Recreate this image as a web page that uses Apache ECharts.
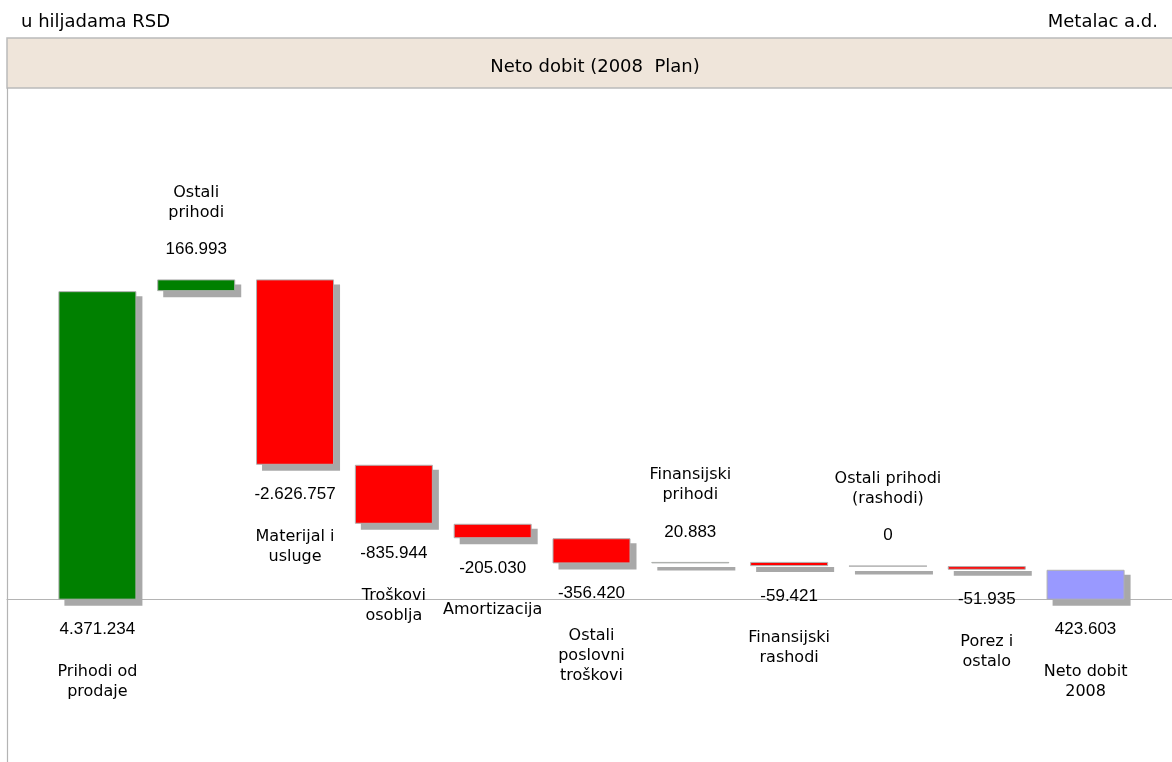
<!DOCTYPE html>
<html><head><meta charset="utf-8">
<script src="https://cdn.jsdelivr.net/npm/echarts@6/dist/echarts.min.js"></script>
<style>html,body{margin:0;padding:0;background:#fff}#c{width:1172px;height:762px}</style>
</head><body><div id="c"></div>
<script>
// ---- data ----
const categories = [
  'Prihodi od\nprodaje', 'Ostali\nprihodi', 'Materijal i\nusluge', 'Troškovi\nosoblja',
  'Amortizacija', 'Ostali\nposlovni\ntroškovi', 'Finansijski\nprihodi', 'Finansijski\nrashodi',
  'Ostali prihodi\n(rashodi)', 'Porez i\nostalo', 'Neto dobit\n2008'
];
const values = [4371234, 166993, -2626757, -835944, -205030, -356420, 20883, -59421, 0, -51935, 423603];
const isTotal = [true, false, false, false, false, false, false, false, false, false, true];
const yMin = -2300000, yMax = 7250000;

const GREEN = '#008000', RED = '#FF0000', BLUE = '#9999FF';
const BAR_W = 78;

function fmt(v) {
  const s = Math.abs(v).toString().replace(/\B(?=(\d{3})+(?!\d))/g, '.');
  return (v < 0 ? '-' : '') + s;
}

const baseData = [], visData = [], shadowData = [];
let running = 0;
values.forEach((v, i) => {
  let base, h, color, pos;
  if (isTotal[i]) {
    base = 0; h = v; running = v;
    color = i === 0 ? GREEN : BLUE; pos = 'bottom';
  } else if (v >= 0) {
    base = running; h = v; running += v;
    color = GREEN; pos = 'top';
  } else {
    running += v; base = running; h = -v;
    color = RED; pos = 'bottom';
  }
  baseData.push(base);
  shadowData.push([i, base, base + h]);
  const nameLines = categories[i].split('\n').map(l => '{n|' + l + '}').join('\n');
  const text = pos === 'bottom'
    ? '{v|' + fmt(v) + '}\n{sb| }\n' + nameLines
    : nameLines + '\n{st| }\n{v|' + fmt(v) + '}';
  visData.push({
    value: h,
    itemStyle: { color: color },
    label: { position: pos, formatter: text }
  });
});

const chart = echarts.init(document.getElementById('c'));
chart.setOption({
  backgroundColor: '#fff',
  animation: false,
  title: [
    { text: 'u hiljadama RSD', left: 16, top: 8,
      textStyle: { fontFamily: 'DejaVu Sans', fontSize: 18, fontWeight: 'normal', color: '#000' } },
    { text: 'Metalac a.d.', right: 9, top: 8,
      textStyle: { fontFamily: 'DejaVu Sans', fontSize: 18, fontWeight: 'normal', color: '#000' } },
    { text: 'Neto dobit (2008  Plan)', left: 590, textAlign: 'center', top: 53,
      textStyle: { fontFamily: 'DejaVu Sans', fontSize: 18, fontWeight: 'normal', color: '#000' } }
  ],
  graphic: [
    { type: 'rect', z: -1, shape: { x: 7, y: 38, width: 1170, height: 50 },
      style: { fill: '#EFE5DA', stroke: '#BBBBBB', lineWidth: 1.5 } }
  ],
  grid: [
    { left: 48, right: 37, top: 88, bottom: 0 },
    { left: 7, right: 0, top: 88, bottom: 0 }
  ],
  xAxis: [
    { type: 'category', gridIndex: 0, data: categories, show: false },
    { type: 'category', gridIndex: 1, data: [''],
      axisLine: { show: true, onZero: true, lineStyle: { color: '#B4B4B4', width: 1.2 } },
      axisTick: { show: false }, axisLabel: { show: false }, splitLine: { show: false } }
  ],
  yAxis: [
    { type: 'value', gridIndex: 0, min: yMin, max: yMax, show: false, splitLine: { show: false } },
    { type: 'value', gridIndex: 1, min: yMin, max: yMax,
      axisLine: { show: true, lineStyle: { color: '#B4B4B4', width: 1.2 } },
      axisTick: { show: false }, axisLabel: { show: false }, splitLine: { show: false } }
  ],
  series: [
    { type: 'custom', name: 'shadow', z: 1, silent: true, data: shadowData,
      renderItem: function (params, api) {
        const top = api.coord([api.value(0), api.value(2)]);
        const bot = api.coord([api.value(0), api.value(1)]);
        const hgt = Math.max(bot[1] - top[1], 2.5);
        return { type: 'rect',
          shape: { x: top[0] - BAR_W / 2 + 6, y: top[1] + 5, width: BAR_W, height: hgt + 1 },
          style: { fill: '#A8A8A8' } };
      }
    },
    { type: 'bar', name: 'base', stack: 'w', data: baseData, barWidth: BAR_W, z: 2,
      itemStyle: { color: 'transparent' }, silent: true },
    { type: 'bar', name: 'val', stack: 'w', data: visData, barWidth: BAR_W, z: 3,
      itemStyle: { borderColor: '#B0B0B0', borderWidth: 1 },
      label: {
        show: true, distance: 20, color: '#000', align: 'center',
        rich: {
          v: { fontFamily: 'Liberation Sans', fontSize: 17, lineHeight: 20, color: '#000', align: 'center' },
          n: { fontFamily: 'DejaVu Sans', fontSize: 16, lineHeight: 20, color: '#000', align: 'center' },
          sb: { fontSize: 10, lineHeight: 22 },
          st: { fontSize: 10, lineHeight: 17 }
        }
      }
    }
  ]
});
</script>
</body></html>
